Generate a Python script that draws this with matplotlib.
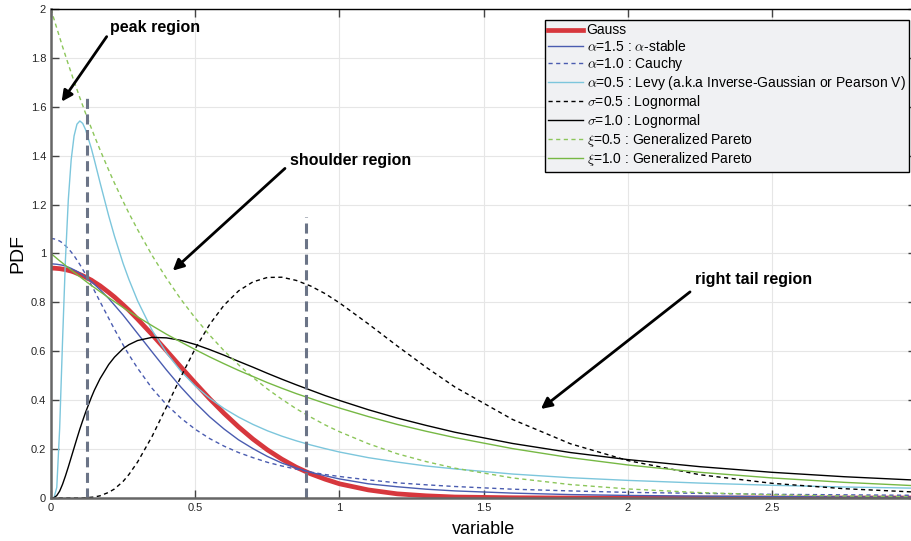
import matplotlib
matplotlib.use("Agg")
from matplotlib import pyplot as plt
from matplotlib.ticker import FormatStrFormatter, MultipleLocator

# sample positions along the variable axis
x_vals = [0, .01, .02, .03, .04, .05, .06, .07, .08, .09, .10, .11, .12,
          .14, .15, .17, .20, .22, .25, .27, .30,
          .35, .40, .45, .50, .55, .60, .65, .70, .75, .80, .85, .90, .95, 1.0,
          1.1, 1.2, 1.3, 1.4, 1.6, 1.8, 2.0, 2.25, 2.5, 2.75, 3.0]

gauss = [.940, .940, .939, .938, .936, .934, .931, .928, .924, .919, .914, .909, .903,
         .891, .883, .868, .841, .822, .790, .768, .732,
         .669, .603, .536, .470, .406, .346, .291, .241, .197, .159, .126, .099, .077, .058,
         .033, .017, .009, .004, .001, 0, 0, 0, 0, 0, 0]

stable_15 = [.958, .957, .956, .954, .952, .948, .944, .939, .933, .927, .920, .912, .903,
             .885, .874, .852, .816, .789, .748, .718, .673,
             .598, .524, .454, .390, .332, .282, .238, .202, .170, .143, .123, .105, .091, .078,
             .058, .046, .036, .029, .020, .014, .0105, .0076, .0057, .0044, .0035]

cauchy = [1.061, 1.060, 1.056, 1.051, 1.043, 1.032, 1.020, 1.006, .991, .973, .955, .935, .915,
          .871, .849, .803, .735, .690, .626, .586, .531,
          .449, .382, .327, .281, .243, .212, .186, .165, .146, .131, .118, .106, .096, .088,
          .074, .062, .054, .047, .036, .029, .023, .019, .015, .013, .011]

levy = [0, 0, .043, .284, .642, .973, 1.220, 1.384, 1.481, 1.529, 1.542, 1.532, 1.506,
        1.429, 1.384, 1.290, 1.154, 1.071, .959, .894, .807,
        .687, .594, .519, .458, .408, .366, .331, .301, .275, .253, .234, .217, .202, .188,
        .165, .147, .131, .119, .098, .083, .072, .061, .052, .045, .040]

lognorm_05 = [0, 0, 0, 0, 0, 0, 0, 0, 0, 0, 0, 0, .001,
              .003, .004, .009, .023, .037, .068, .096, .147,
              .251, .372, .495, .611, .710, .789, .847, .884, .902, .903, .890, .867, .836, .798,
              .712, .622, .535, .454, .321, .222, .153, .095, .060, .038, .024]

lognorm_10 = [0, .001, .010, .028, .056, .090, .127, .166, .205, .244, .282, .317, .351,
              .412, .440, .488, .546, .576, .611, .627, .644,
              .657, .655, .645, .628, .607, .584, .559, .535, .510, .486, .463, .441, .419, .399,
              .361, .327, .297, .269, .223, .186, .157, .128, .105, .087, .073]

gpd_05 = [2.0, 1.960, 1.922, 1.884, 1.846, 1.810, 1.774, 1.739, 1.704, 1.671, 1.637, 1.605, 1.573,
          1.512, 1.482, 1.424, 1.341, 1.288, 1.213, 1.165, 1.098,
          .993, .899, .813, .736, .666, .602, .545, .493, .446, .404, .365, .331, .299, .271,
          .222, .181, .149, .122, .082, .055, .037, .022, .013, .008, .005]

gpd_10 = [1.0, .990, .980, .970, .961, .951, .942, .932, .923, .914, .905, .896, .887,
          .869, .861, .844, .819, .803, .779, .763, .741,
          .705, .670, .638, .607, .577, .549, .522, .497, .472, .449, .427, .407, .387, .368,
          .333, .301, .273, .247, .202, .165, .135, .105, .082, .064, .050]

labels = [
    "Gauss",
    r"$\alpha$=1.5 : $\alpha$-stable",
    r"$\alpha$=1.0 : Cauchy",
    r"$\alpha$=0.5 : Levy (a.k.a Inverse-Gaussian or Pearson V)",
    r"$\sigma$=0.5 : Lognormal",
    r"$\sigma$=1.0 : Lognormal",
    r"$\xi$=0.5 : Generalized Pareto",
    r"$\xi$=1.0 : Generalized Pareto",
]

x_ticks = [0, 0.5, 1, 1.5, 2, 2.5]

# crossing points of the gauss / stable / cauchy curves
region_bounds = [0.125, 0.883]
region_heights = [1.645, 1.15]

plt.rcParams["font.family"] = ["Liberation Sans", "DejaVu Sans"]
plt.rcParams["mathtext.fontset"] = "cm"

dash = (0, (3, 2.5))

fig = plt.figure(figsize=(9.12, 5.41), dpi=100)
ax = fig.add_axes([51 / 912, 43 / 541, 865.5 / 912, 489 / 541])

ax.plot(x_vals, gauss, color="#d7373d", linewidth=3.4)
ax.plot(x_vals, stable_15, color="#4a5cb0", linewidth=1.0)
ax.plot(x_vals, cauchy, color="#4a5cb0", linewidth=1.0, linestyle=dash)
ax.plot(x_vals, levy, color="#7cc6dc", linewidth=1.0)
ax.plot(x_vals, lognorm_05, color="black", linewidth=1.0, linestyle=dash)
ax.plot(x_vals, lognorm_10, color="black", linewidth=1.0)
ax.plot(x_vals, gpd_05, color="#8cc65a", linewidth=1.0, linestyle=dash)
ax.plot(x_vals, gpd_10, color="#76b844", linewidth=1.0)

for xb, hb in zip(region_bounds, region_heights):
    ax.plot([xb, xb], [0, hb], color="#6b7487", linewidth=2.2,
            linestyle=(0, (3.3, 1.8)))

ax.set_xlim(0, 3)
ax.set_ylim(0, 2)
ax.set_xticks(x_ticks)
ax.yaxis.set_major_locator(MultipleLocator(0.2))
ax.xaxis.set_major_formatter(FormatStrFormatter("%g"))
ax.yaxis.set_major_formatter(FormatStrFormatter("%g"))
ax.grid(True, color="#e6e6e6", linewidth=0.8)
ax.set_axisbelow(True)
ax.tick_params(direction="in", top=True, right=True, length=6, width=1.0,
               color="#444444", labelsize=8, labelcolor="#262626")

for side in ("left", "bottom"):
    ax.spines[side].set_color("#666666")
    ax.spines[side].set_linewidth(1.8)
ax.spines["top"].set_color("black")
ax.spines["top"].set_linewidth(1.0)

ax.set_xlabel("variable", fontsize=13, labelpad=6)
ax.set_ylabel("PDF", fontsize=14, labelpad=3)

leg = ax.legend(labels, loc="upper right", bbox_to_anchor=(0.9913, 0.9775),
                borderaxespad=0, fontsize=10, labelspacing=0.08,
                handlelength=2.5, handletextpad=0.25, borderpad=0.25,
                fancybox=False, framealpha=1.0, facecolor="#f0f1f3",
                edgecolor="black")
leg.get_frame().set_linewidth(1.0)

arrow = dict(arrowstyle="-|>", color="black", linewidth=2.0, mutation_scale=16,
             shrinkA=0, shrinkB=0)
ax.annotate("", xy=(0.037, 1.621), xytext=(0.193, 1.887), arrowprops=arrow)
ax.annotate("", xy=(0.422, 0.930), xytext=(0.811, 1.348), arrowprops=arrow)
ax.annotate("", xy=(1.698, 0.364), xytext=(2.215, 0.843), arrowprops=arrow)

ax.text(0.2045, 1.926, "peak region", fontsize=11.5, fontweight="bold",
        ha="left", va="center")
ax.text(0.828, 1.382, "shoulder region", fontsize=11.5, fontweight="bold",
        ha="left", va="center")
ax.text(2.232, 0.892, "right tail region", fontsize=11.5, fontweight="bold",
        ha="left", va="center")

fig.savefig("out.png", dpi=100)
